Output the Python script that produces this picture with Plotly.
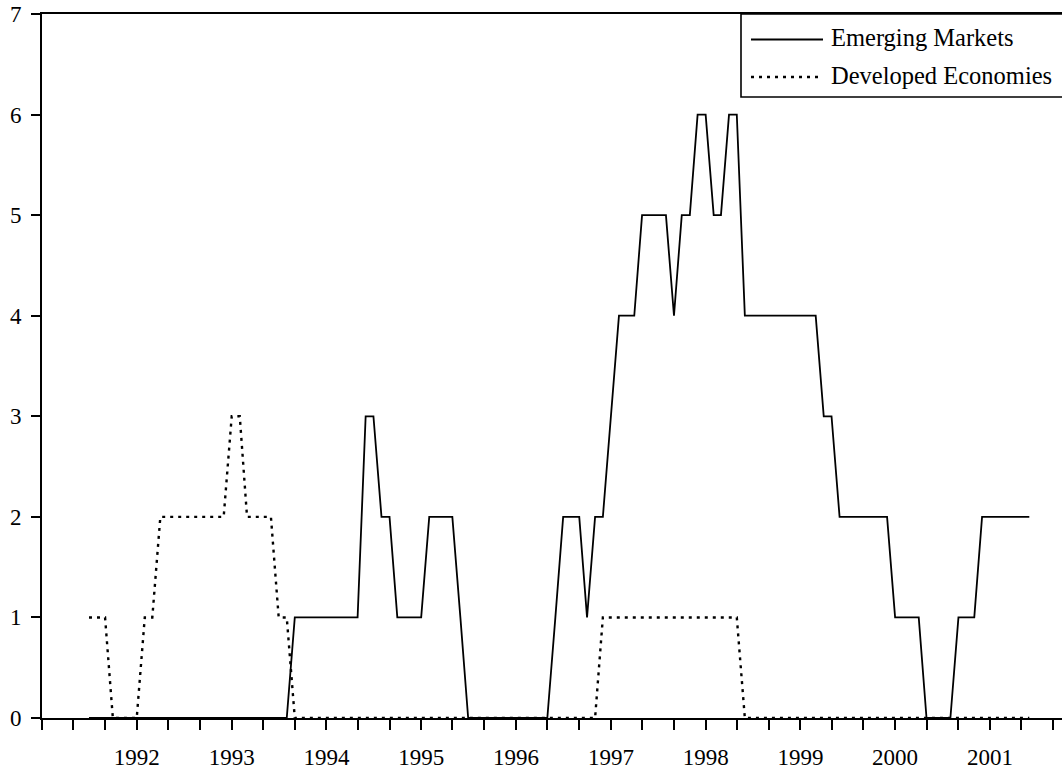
import plotly.graph_objects as go
import pandas as pd

# Monthly observations, July 1991 - June 2001
months = pd.date_range("1991-07-01", "2001-06-01", freq="MS").strftime("%Y-%m-%d").tolist()

emerging = (
    [0, 0, 0, 0, 0, 0] +                              # 1991 Jul-Dec
    [0, 0, 0, 0, 0, 0, 0, 0, 0, 0, 0, 0] +            # 1992
    [0, 0, 0, 0, 0, 0, 0, 0, 1, 1, 1, 1] +            # 1993
    [1, 1, 1, 1, 1, 3, 3, 2, 2, 1, 1, 1] +            # 1994
    [1, 2, 2, 2, 2, 1, 0, 0, 0, 0, 0, 0] +            # 1995
    [0, 0, 0, 0, 0, 1, 2, 2, 2, 1, 2, 2] +            # 1996
    [3, 4, 4, 4, 5, 5, 5, 5, 4, 5, 5, 6] +            # 1997
    [6, 5, 5, 6, 6, 4, 4, 4, 4, 4, 4, 4] +            # 1998
    [4, 4, 4, 3, 3, 2, 2, 2, 2, 2, 2, 2] +            # 1999
    [1, 1, 1, 1, 0, 0, 0, 0, 1, 1, 1, 2] +            # 2000
    [2, 2, 2, 2, 2, 2]                                # 2001 Jan-Jun
)

developed = (
    [1, 1, 1, 0, 0, 0] +                              # 1991 Jul-Dec
    [0, 1, 1, 2, 2, 2, 2, 2, 2, 2, 2, 2] +            # 1992
    [3, 3, 2, 2, 2, 2, 1, 1, 0, 0, 0, 0] +            # 1993
    [0, 0, 0, 0, 0, 0, 0, 0, 0, 0, 0, 0] +            # 1994
    [0, 0, 0, 0, 0, 0, 0, 0, 0, 0, 0, 0] +            # 1995
    [0, 0, 0, 0, 0, 0, 0, 0, 0, 0, 0, 1] +            # 1996
    [1, 1, 1, 1, 1, 1, 1, 1, 1, 1, 1, 1] +            # 1997
    [1, 1, 1, 1, 1, 0, 0, 0, 0, 0, 0, 0] +            # 1998
    [0, 0, 0, 0, 0, 0, 0, 0, 0, 0, 0, 0] +            # 1999
    [0, 0, 0, 0, 0, 0, 0, 0, 0, 0, 0, 0] +            # 2000
    [0, 0, 0, 0, 0, 0]                                # 2001 Jan-Jun
)

series_names = ["Emerging Markets", "Developed Economies"]

# Axis ticks: a tick every four months, year labels each January
tick_dates = pd.date_range("1991-01-01", "2001-09-01", freq="4MS").strftime("%Y-%m-%d").tolist()
year_labels = [str(y) for y in range(1992, 2002)]
tick_text = [d[:4] if (d[5:7] == "01" and d[:4] in year_labels) else "" for d in tick_dates]
y_ticks = [0, 1, 2, 3, 4, 5, 6, 7]

W, H = 1062, 771
L, R, T, B = 42, 0, 14, 53
PW, PH = W - L - R, H - T - B


def px_x(x):
    return (x - L) / PW


def px_y(y):
    return (H - B - y) / PH


fig = go.Figure()
fig.add_trace(go.Scatter(
    x=months, y=emerging, mode="lines", name=series_names[0],
    line=dict(color="black", width=1.8),
))
fig.add_trace(go.Scatter(
    x=months, y=developed, mode="lines", name=series_names[1],
    line=dict(color="black", width=2.4, dash="3px,5px"),
))

fig.update_layout(
    width=W, height=H,
    margin=dict(l=L, r=R, t=T, b=B, pad=0, autoexpand=False),
    plot_bgcolor="white", paper_bgcolor="white",
    font=dict(family="Liberation Serif", size=23, color="black"),
    showlegend=False,
)
fig.update_xaxes(
    type="date", range=["1991-01-01", "2001-10-05"], automargin=False,
    tickmode="array", tickvals=tick_dates, ticktext=tick_text,
    ticks="outside", ticklen=10, tickwidth=1.6, tickcolor="black",
    showline=True, linewidth=2, linecolor="black", mirror=True,
    showgrid=False, zeroline=False, ticklabelstandoff=7,
)
fig.update_yaxes(
    range=[0, 7], tickmode="array", tickvals=y_ticks, automargin=False,
    ticks="outside", ticklen=9, tickwidth=1.6, tickcolor="black",
    showline=True, linewidth=2, linecolor="black",
    showgrid=False, zeroline=False, ticklabelstandoff=5,
)

# Legend box (drawn to reproduce the long line samples of the original)
fig.add_shape(type="rect", xref="paper", yref="paper",
              x0=px_x(741), x1=px_x(1075), y0=px_y(97), y1=px_y(14),
              line=dict(color="black", width=1.6), fillcolor="white", layer="above")
fig.add_shape(type="line", xref="paper", yref="paper",
              x0=px_x(751), x1=px_x(823), y0=px_y(39.5), y1=px_y(39.5),
              line=dict(color="black", width=1.8), layer="above")
fig.add_shape(type="line", xref="paper", yref="paper",
              x0=px_x(751), x1=px_x(823), y0=px_y(77), y1=px_y(77),
              line=dict(color="black", width=2.4, dash="3px,5px"), layer="above")
for name, yy in zip(series_names, [38, 75]):
    fig.add_annotation(text=name, xref="paper", yref="paper",
                       x=px_x(829), y=px_y(yy), xanchor="left", yanchor="middle",
                       showarrow=False, font=dict(family="Liberation Serif", size=24.5, color="black"))

fig.write_html("out.html", config={"displayModeBar": False},
               post_script="document.body.style.margin='0';")
